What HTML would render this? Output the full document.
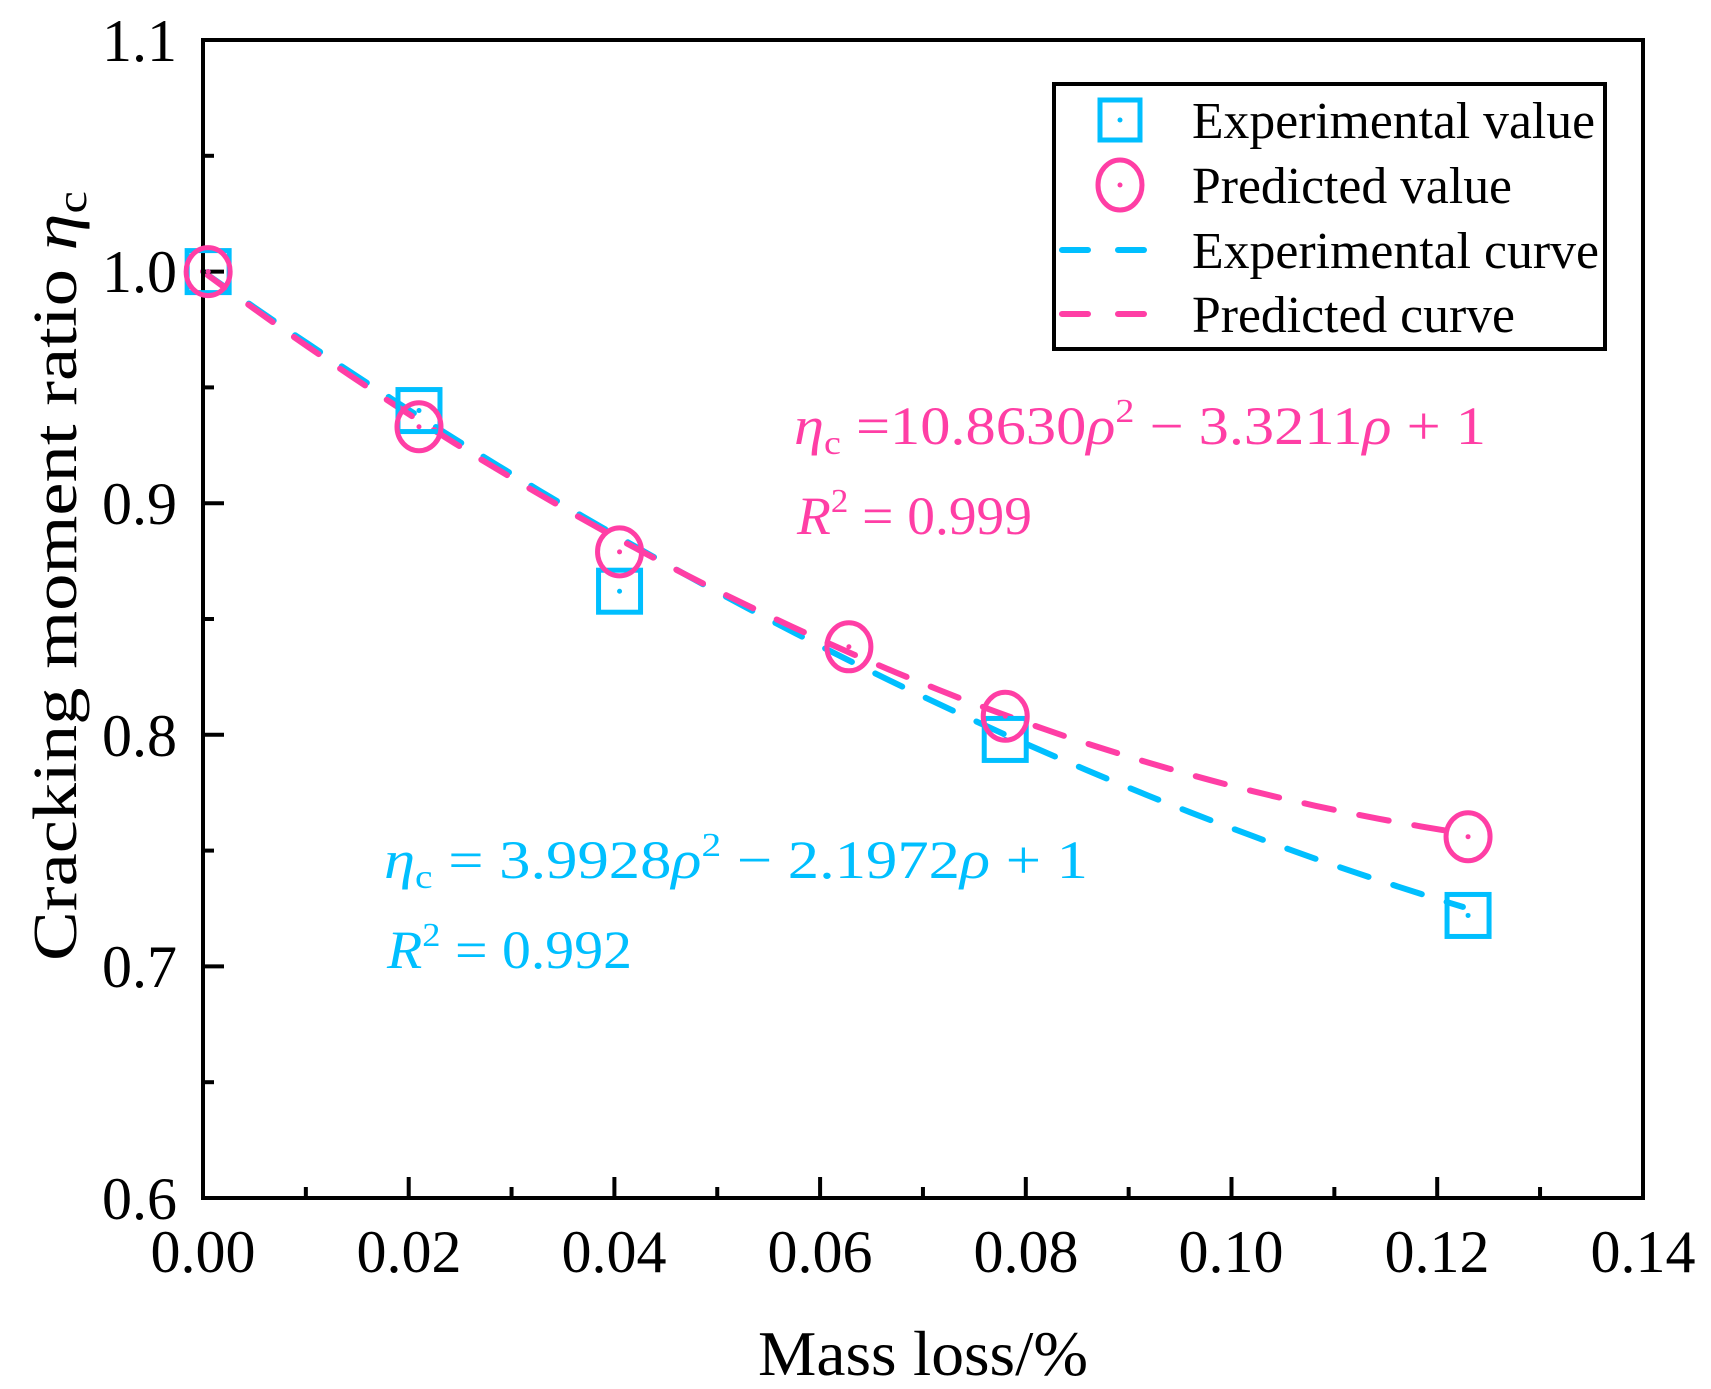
<!DOCTYPE html>
<html><head><meta charset="utf-8"><style>
html,body{margin:0;padding:0;background:#fff}
svg{display:block}
text{font-family:"Liberation Serif","DejaVu Serif",serif}
</style></head><body>
<svg width="1711" height="1389" viewBox="0 0 1711 1389" xmlns="http://www.w3.org/2000/svg">
<rect width="1711" height="1389" fill="#fff"/>
<g id="curves" fill="none" stroke-width="6" stroke-linecap="round" stroke-dasharray="30 26"></g>
<g id="ticks" stroke="#000" stroke-width="4"></g>
<rect x="203" y="40" width="1440" height="1158" fill="none" stroke="#000" stroke-width="4"/>
<g id="markers"></g>
<g font-size="60" fill="#000" text-anchor="middle">
<text x="203" y="1272">0.00</text><text x="409" y="1272">0.02</text><text x="614" y="1272">0.04</text>
<text x="820" y="1272">0.06</text><text x="1026" y="1272">0.08</text><text x="1231" y="1272">0.10</text>
<text x="1437" y="1272">0.12</text><text x="1643" y="1272">0.14</text>
</g>
<g font-size="60" fill="#000" text-anchor="end">
<text x="177" y="1219">0.6</text><text x="177" y="987">0.7</text><text x="177" y="756">0.8</text>
<text x="177" y="524">0.9</text><text x="177" y="292">1.0</text><text x="177" y="61">1.1</text>
</g>
<text x="758" y="1375" font-size="64" textLength="330" lengthAdjust="spacingAndGlyphs">Mass loss/%</text>
<text transform="translate(76,961) rotate(-90)" font-size="62" textLength="770" lengthAdjust="spacingAndGlyphs">Cracking moment ratio <tspan font-style="italic">η</tspan><tspan font-size="42" dy="10">c</tspan></text>
<g fill="#FF3EA5" font-size="54">
<text x="794" y="444" textLength="692" lengthAdjust="spacingAndGlyphs"><tspan font-style="italic">η</tspan><tspan font-size="34" dy="10">c</tspan><tspan dy="-10"> =10.8630</tspan><tspan font-style="italic">ρ</tspan><tspan font-size="34" dy="-22">2</tspan><tspan dy="22"> −  3.3211</tspan><tspan font-style="italic">ρ</tspan><tspan>  + 1</tspan></text>
<text x="797" y="534" textLength="235" lengthAdjust="spacingAndGlyphs"><tspan font-style="italic">R</tspan><tspan font-size="34" dy="-22">2</tspan><tspan dy="22"> = 0.999</tspan></text>
</g>
<g fill="#00BFFF" font-size="54">
<text x="384" y="878" textLength="704" lengthAdjust="spacingAndGlyphs"><tspan font-style="italic">η</tspan><tspan font-size="34" dy="10">c</tspan><tspan dy="-10"> = 3.9928</tspan><tspan font-style="italic">ρ</tspan><tspan font-size="34" dy="-22">2</tspan><tspan dy="22"> −  2.1972</tspan><tspan font-style="italic">ρ</tspan><tspan>  + 1</tspan></text>
<text x="387" y="968" textLength="245" lengthAdjust="spacingAndGlyphs"><tspan font-style="italic">R</tspan><tspan font-size="34" dy="-22">2</tspan><tspan dy="22"> = 0.992</tspan></text>
</g>
<rect x="1054" y="84" width="551" height="265" fill="#fff" stroke="#000" stroke-width="4"/>
<rect x="1100" y="100" width="40" height="40" fill="none" stroke="#00BFFF" stroke-width="5"/>
<circle cx="1120" cy="120" r="2.5" fill="#00BFFF"/>
<ellipse cx="1120" cy="185" rx="22" ry="25" fill="none" stroke="#FF3EA5" stroke-width="5"/>
<circle cx="1120" cy="185" r="2.5" fill="#FF3EA5"/>
<line x1="1062" y1="250" x2="1162" y2="250" stroke="#00BFFF" stroke-width="6" stroke-linecap="round" stroke-dasharray="26 30"/>
<line x1="1062" y1="314" x2="1162" y2="314" stroke="#FF3EA5" stroke-width="6" stroke-linecap="round" stroke-dasharray="26 30"/>
<g font-size="52" fill="#000" lengthAdjust="spacingAndGlyphs">
<text x="1192" y="138" textLength="403" lengthAdjust="spacingAndGlyphs">Experimental value</text>
<text x="1192" y="203" textLength="320" lengthAdjust="spacingAndGlyphs">Predicted value</text>
<text x="1192" y="268" textLength="407" lengthAdjust="spacingAndGlyphs">Experimental curve</text>
<text x="1192" y="332" textLength="323" lengthAdjust="spacingAndGlyphs">Predicted curve</text>
</g>
<script>
var NS="http://www.w3.org/2000/svg";
function X(v){return 203+v*10285}function Y(v){return 1198-(v-0.6)*2316}
function el(t,a,p){var e=document.createElementNS(NS,t);for(var k in a)e.setAttribute(k,a[k]);p.appendChild(e);return e}
var t=document.getElementById('ticks');
for(var i=1;i<14;i++){var x=203+i*205.7/2;var L=(i%2==0)?21:11;el('line',{x1:x,y1:1198,x2:x,y2:1198-L},t)}
for(var i=1;i<10;i++){var y=1198-i*231.6/2;var L=(i%2==0)?21:11;el('line',{x1:203,y1:y,x2:203+L,y2:y},t)}
var c=document.getElementById('curves');
function curve(a,b,col){var d='';for(var k=0;k<=60;k++){var v=0.1225*k/60;d+=(k?'L':'M')+X(v).toFixed(1)+' '+Y(1+a*v+b*v*v).toFixed(1)}el('path',{d:d,stroke:col},c)}
curve(-3.13,7.27,'#00BFFF');curve(-3.29,10.7,'#FF3EA5');
var m=document.getElementById('markers');
[[0.0005,1.0],[0.021,0.94],[0.0405,0.862],[0.078,0.798],[0.123,0.722]].forEach(function(p){var x=X(p[0]),y=Y(p[1]);el('rect',{x:x-21,y:y-21,width:42,height:42,fill:'none',stroke:'#00BFFF','stroke-width':5},m);el('circle',{cx:x,cy:y,r:2.5,fill:'#00BFFF'},m)});
[[0.0005,1.0],[0.021,0.933],[0.0405,0.879],[0.0628,0.838],[0.078,0.808],[0.123,0.756]].forEach(function(p){var x=X(p[0]),y=Y(p[1]);el('ellipse',{cx:x,cy:y,rx:22,ry:24,fill:'none',stroke:'#FF3EA5','stroke-width':5},m);el('circle',{cx:x,cy:y,r:2.5,fill:'#FF3EA5'},m)});
</script>
</svg>
</body></html>
